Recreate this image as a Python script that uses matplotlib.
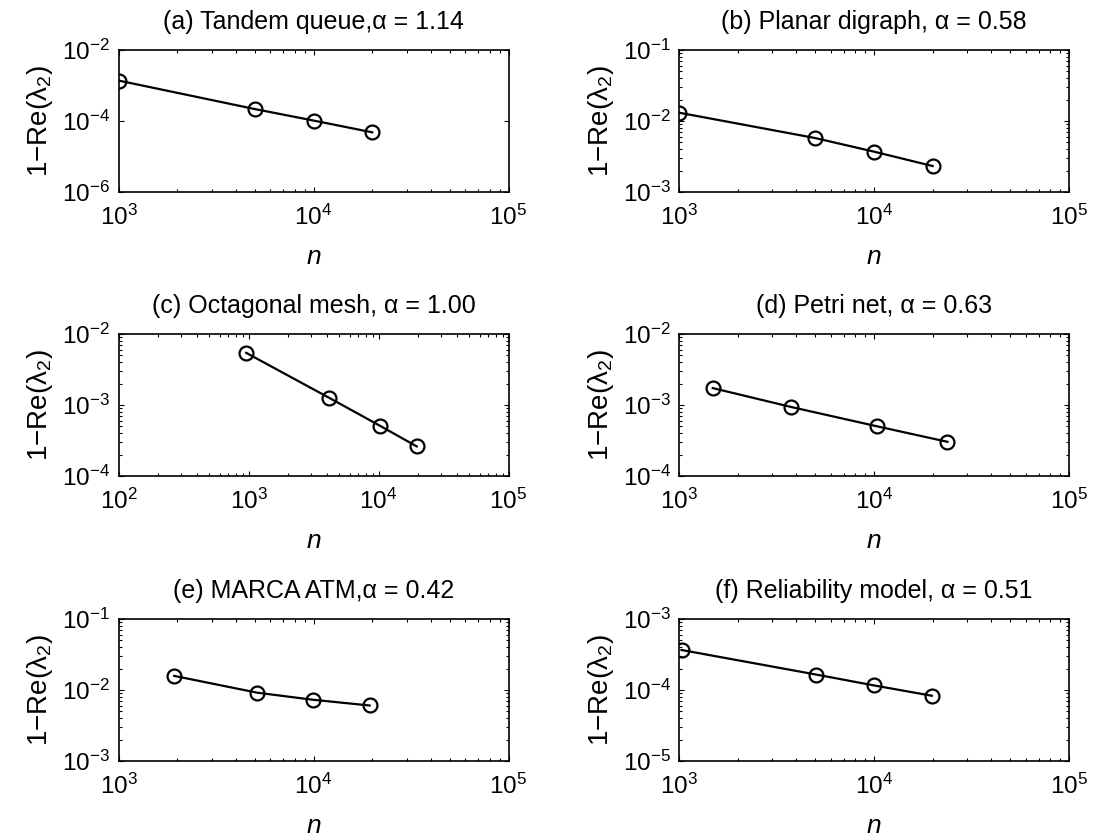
import numpy as np
import matplotlib
matplotlib.use('Agg')
import matplotlib.pyplot as plt
from matplotlib.ticker import LogLocator, NullFormatter

plt.rcParams['font.family'] = ['Liberation Sans', 'DejaVu Sans']
plt.rcParams['mathtext.fontset'] = 'custom'
plt.rcParams['mathtext.rm'] = 'Liberation Sans'
plt.rcParams['mathtext.it'] = 'Liberation Sans:italic'
plt.rcParams['mathtext.default'] = 'regular'

# data
n_a   = [1000, 5000, 10000, 20000]
gap_a = [1.38e-3, 2.17e-4, 1.03e-4, 4.8e-5]
n_b   = [1000, 5000, 10000, 20000]
gap_b = [1.31e-2, 5.75e-3, 3.7e-3, 2.32e-3]
n_c   = [960, 4180, 10300, 19700]
gap_c = [5.43e-3, 1.26e-3, 5.08e-4, 2.61e-4]
n_d   = [1490, 3770, 10400, 23800]
gap_d = [1.73e-3, 9.36e-4, 5.0e-4, 3.03e-4]
n_e   = [1930, 5150, 9920, 19400]
gap_e = [1.58e-2, 9.16e-3, 7.29e-3, 6.05e-3]
n_f   = [1030, 5050, 10000, 19800]
gap_f = [3.66e-4, 1.65e-4, 1.16e-4, 8.3e-5]

titles = ['(a) Tandem queue,\u03b1 = 1.14',
          '(b) Planar digraph, \u03b1 = 0.58',
          '(c) Octagonal mesh, \u03b1 = 1.00',
          '(d) Petri net, \u03b1 = 0.63',
          '(e) MARCA ATM,\u03b1 = 0.42',
          '(f) Reliability model, \u03b1 = 0.51']
xlims = [(1e3, 1e5), (1e3, 1e5), (1e2, 1e5), (1e3, 1e5), (1e3, 1e5), (1e3, 1e5)]
ylims = [(1e-6, 1e-2), (1e-3, 1e-1), (1e-4, 1e-2), (1e-4, 1e-2), (1e-3, 1e-1), (1e-5, 1e-3)]
ns   = [n_a, n_b, n_c, n_d, n_e, n_f]
gaps = [gap_a, gap_b, gap_c, gap_d, gap_e, gap_f]

fig = plt.figure(figsize=(11.02, 8.39), dpi=100)

W, H = 1102, 839
lefts = [118.5 / W, 679 / W]
width = 390 / W
height = 142 / H
bottoms = [1 - 192 / H, 1 - 476 / H, 1 - 761 / H]

fs = 18
for i in range(6):
    row, col = divmod(i, 2)
    ax = fig.add_axes([lefts[col], bottoms[row], width, height])
    ax.loglog(ns[i], gaps[i], '-o', color='k', lw=1.6, ms=10,
              mfc='none', mec='k', mew=1.6)
    ax.set_xlim(*xlims[i])
    ax.set_ylim(*ylims[i])

    lo, hi = np.log10(ylims[i])
    if hi - lo > 2:
        ax.set_yticks(10.0 ** np.arange(lo, hi + 1, 2))
        ax.yaxis.set_minor_locator(LogLocator(base=10, subs=[]))
    else:
        ax.yaxis.set_minor_locator(LogLocator(base=10, subs=np.arange(2, 10)))
    ax.xaxis.set_minor_locator(LogLocator(base=10, subs=np.arange(2, 10)))
    ax.yaxis.set_minor_formatter(NullFormatter())
    ax.xaxis.set_minor_formatter(NullFormatter())

    ax.tick_params(which='both', direction='in', top=True, right=True,
                   labelsize=17.5, width=0.8)
    ax.tick_params(which='major', length=3.5)
    ax.tick_params(axis='x', which='major', pad=9)
    ax.tick_params(axis='y', which='major', pad=6)
    ax.tick_params(which='minor', length=2)
    for s in ax.spines.values():
        s.set_linewidth(1.2)

    ax.set_title(titles[i], fontsize=fs, pad=15)
    ax.set_xlabel('$\\mathit{n}$', fontsize=fs + 1, labelpad=11)
    ax.set_ylabel('1$-$Re($\\lambda_2$)', fontsize=20, labelpad=5)

fig.savefig('out.png', dpi=100)
